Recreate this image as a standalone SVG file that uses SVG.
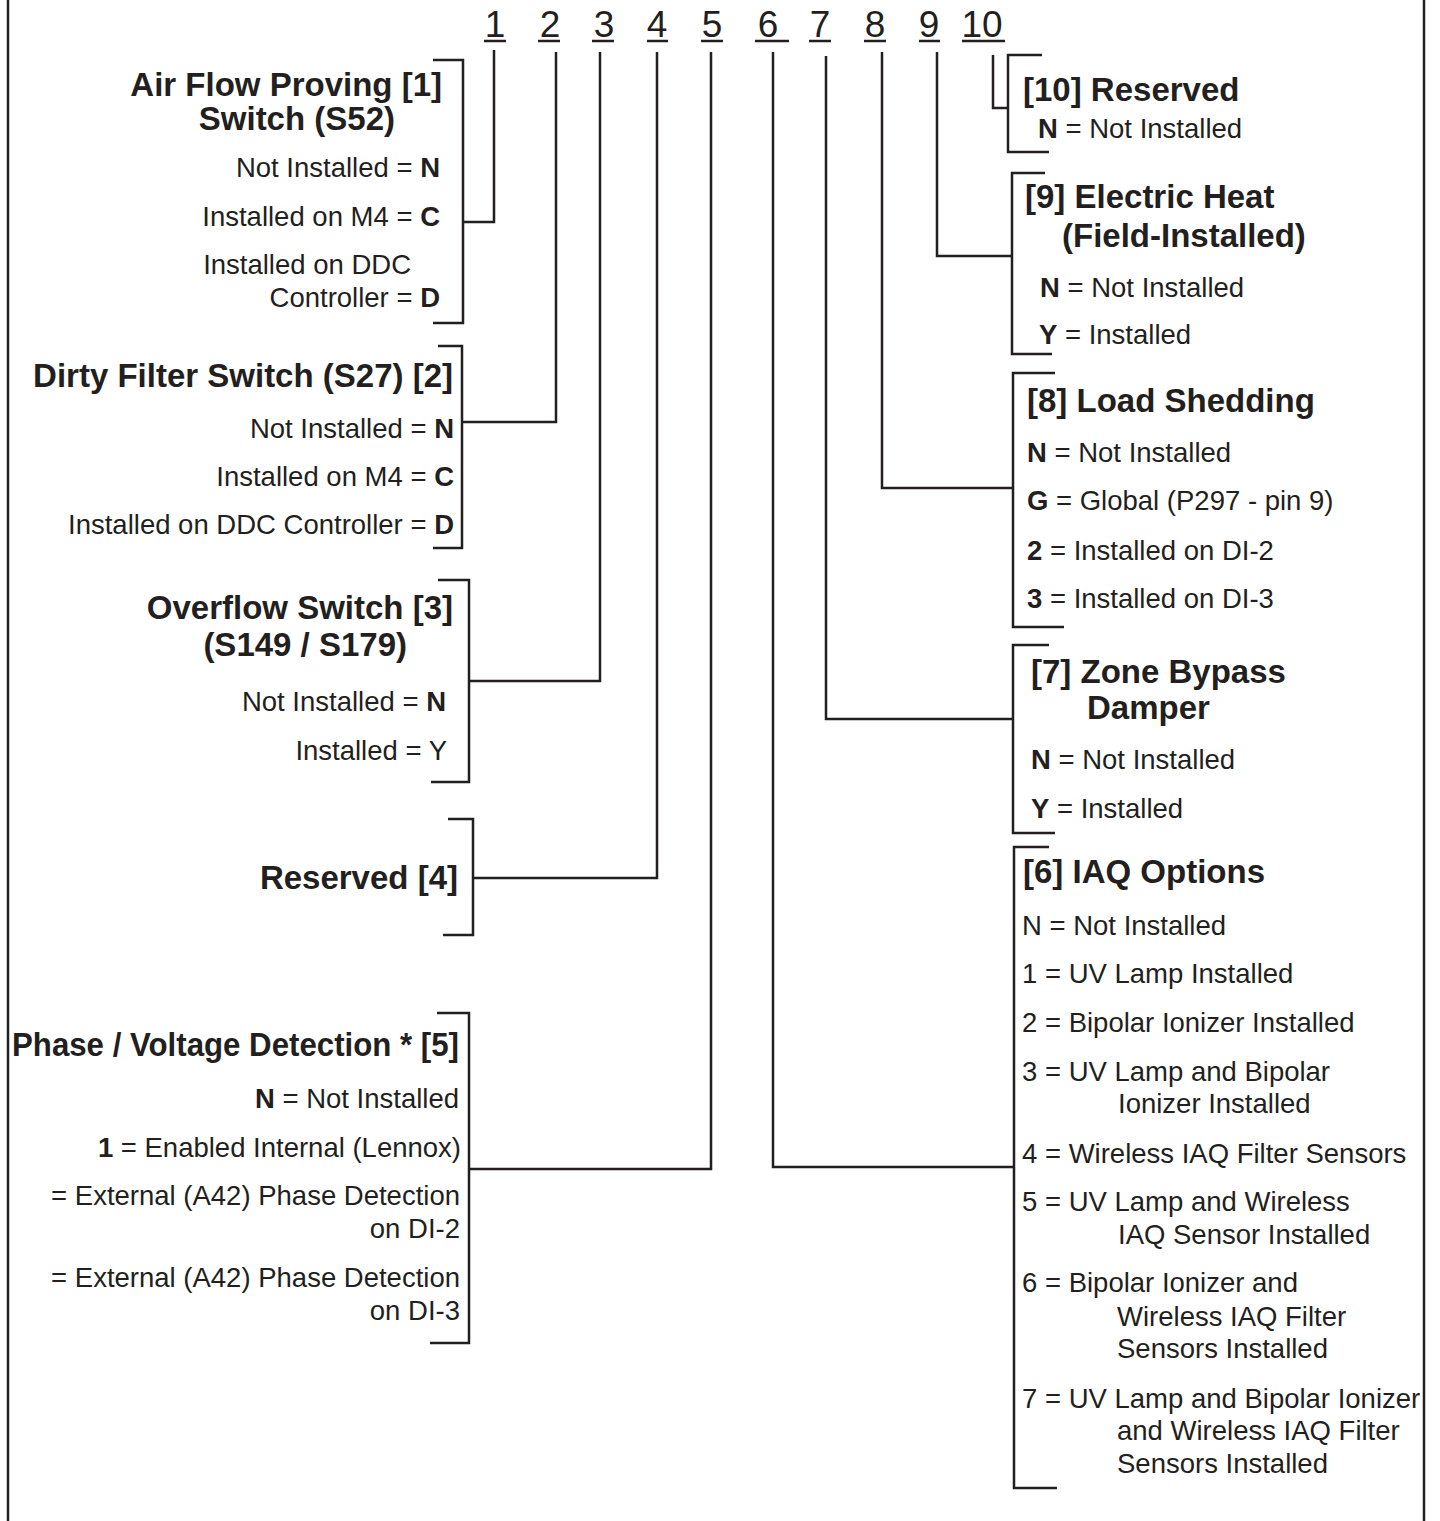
<svg xmlns="http://www.w3.org/2000/svg" width="1440" height="1521" viewBox="0 0 1440 1521">
<style>
text{font-family:"Liberation Sans",Arial,Helvetica,sans-serif;fill:#231f20}
.r{font-size:27.5px}
.b{font-size:33px;font-weight:bold}
.e{text-anchor:end}
.d{font-size:37px;text-anchor:middle}
.ln{fill:none;stroke:#231f20;stroke-width:2.5}
tspan.k{font-weight:bold}
</style>
<rect x="0" y="0" width="1440" height="1521" fill="#ffffff"/>
<g id="frame">
<line class="ln" x1="8" y1="0" x2="8" y2="1521"/>
<line class="ln" x1="1424" y1="0" x2="1424" y2="1521"/>
</g>
<g id="digits">
<text class="d" x="495" y="37">1</text>
<text class="d" x="550" y="37">2</text>
<text class="d" x="604" y="37">3</text>
<text class="d" x="657" y="37">4</text>
<text class="d" x="712" y="37">5</text>
<text class="d" x="768" y="37">6</text>
<text class="d" x="820" y="37">7</text>
<text class="d" x="875" y="37">8</text>
<text class="d" x="929" y="37">9</text>
<text class="d" x="982" y="37">10</text>
<line class="ln" x1="484" y1="41" x2="506" y2="41"/>
<line class="ln" x1="538" y1="41" x2="560" y2="41"/>
<line class="ln" x1="592" y1="41" x2="614" y2="41"/>
<line class="ln" x1="647" y1="41" x2="668" y2="41"/>
<line class="ln" x1="701" y1="41" x2="723" y2="41"/>
<line class="ln" x1="755" y1="41" x2="789" y2="41"/>
<line class="ln" x1="809" y1="41" x2="831" y2="41"/>
<line class="ln" x1="864" y1="41" x2="886" y2="41"/>
<line class="ln" x1="919" y1="41" x2="940" y2="41"/>
<line class="ln" x1="962" y1="41" x2="1005" y2="41"/>
</g>
<g id="connectors">
<polyline class="ln" points="494,50 494,222 463,222"/>
<polyline class="ln" points="556,52 556,422 462,422"/>
<polyline class="ln" points="600,52 600,681 469,681"/>
<polyline class="ln" points="657,52 657,878 473,878"/>
<polyline class="ln" points="711,52 711,1169 469,1169"/>
<polyline class="ln" points="773,52 773,1167 1014,1167"/>
<polyline class="ln" points="826,56 826,719 1013,719"/>
<polyline class="ln" points="882,52 882,488 1013,488"/>
<polyline class="ln" points="937,52 937,256 1012,256"/>
<polyline class="ln" points="993,55 993,108 1008,108"/>
</g>
<g id="node1">
<polyline class="ln" points="433,60 463,60 463,323 433,323"/>
<text class="b e" x="442" y="96">Air Flow Proving [1]</text>
<text class="b e" x="395" y="130">Switch (S52)</text>
<text class="r e" x="440" y="177">Not Installed = <tspan class="k">N</tspan></text>
<text class="r e" x="440" y="226">Installed on M4 = <tspan class="k">C</tspan></text>
<text class="r e" x="411" y="274">Installed on DDC</text>
<text class="r e" x="440" y="307">Controller = <tspan class="k">D</tspan></text>
</g>
<g id="node2">
<polyline class="ln" points="438,346 462,346 462,548 433,548"/>
<text class="b e" x="453" y="387">Dirty Filter Switch (S27) [2]</text>
<text class="r e" x="454" y="438">Not Installed = <tspan class="k">N</tspan></text>
<text class="r e" x="454" y="486">Installed on M4 = <tspan class="k">C</tspan></text>
<text class="r e" x="454" y="534">Installed on DDC Controller = <tspan class="k">D</tspan></text>
</g>
<g id="node3">
<polyline class="ln" points="438,580 469,580 469,782 431,782"/>
<text class="b e" x="453" y="619">Overflow Switch [3]</text>
<text class="b e" x="407" y="656">(S149 / S179)</text>
<text class="r e" x="446" y="711">Not Installed = <tspan class="k">N</tspan></text>
<text class="r e" x="447" y="760">Installed = Y</text>
</g>
<g id="node4">
<polyline class="ln" points="448,819 473,819 473,935 443,935"/>
<text class="b e" x="458" y="889">Reserved [4]</text>
</g>
<g id="node5">
<polyline class="ln" points="437,1013 469,1013 469,1343 430,1343"/>
<text class="b e" x="459" y="1056" textLength="447" lengthAdjust="spacingAndGlyphs">Phase / Voltage Detection * [5]</text>
<text class="r e" x="459" y="1108"><tspan class="k">N</tspan> = Not Installed</text>
<text class="r e" x="461" y="1157"><tspan class="k">1</tspan> = Enabled Internal (Lennox)</text>
<text class="r e" x="460" y="1205">= External (A42) Phase Detection</text>
<text class="r e" x="460" y="1238">on DI-2</text>
<text class="r e" x="460" y="1287">= External (A42) Phase Detection</text>
<text class="r e" x="460" y="1320">on DI-3</text>
</g>
<g id="node10">
<polyline class="ln" points="1042,55 1008,55 1008,152 1049,152"/>
<text class="b" x="1023" y="101">[10] Reserved</text>
<text class="r" x="1038" y="138"><tspan class="k">N</tspan> = Not Installed</text>
</g>
<g id="node9">
<polyline class="ln" points="1045,173 1012,173 1012,354 1052,354"/>
<text class="b" x="1025" y="208">[9] Electric Heat</text>
<text class="b" x="1062" y="247">(Field-Installed)</text>
<text class="r" x="1040" y="297"><tspan class="k">N</tspan> = Not Installed</text>
<text class="r" x="1039" y="344"><tspan class="k">Y</tspan> = Installed</text>
</g>
<g id="node8">
<polyline class="ln" points="1055,373 1013,373 1013,627 1064,627"/>
<text class="b" x="1027" y="412">[8] Load Shedding</text>
<text class="r" x="1027" y="462"><tspan class="k">N</tspan> = Not Installed</text>
<text class="r" x="1027" y="510"><tspan class="k">G</tspan> = Global (P297 - pin 9)</text>
<text class="r" x="1027" y="560"><tspan class="k">2</tspan> = Installed on DI-2</text>
<text class="r" x="1027" y="608"><tspan class="k">3</tspan> = Installed on DI-3</text>
</g>
<g id="node7">
<polyline class="ln" points="1049,645 1013,645 1013,833 1055,833"/>
<text class="b" x="1031" y="683">[7] Zone Bypass</text>
<text class="b" x="1087" y="719">Damper</text>
<text class="r" x="1031" y="769"><tspan class="k">N</tspan> = Not Installed</text>
<text class="r" x="1031" y="818"><tspan class="k">Y</tspan> = Installed</text>
</g>
<g id="node6">
<polyline class="ln" points="1049,847 1014,847 1014,1488 1057,1488"/>
<text class="b" x="1023" y="883">[6] IAQ Options</text>
<text class="r" x="1022" y="935">N = Not Installed</text>
<text class="r" x="1022" y="983">1 = UV Lamp Installed</text>
<text class="r" x="1022" y="1032">2 = Bipolar Ionizer Installed</text>
<text class="r" x="1022" y="1081">3 = UV Lamp and Bipolar</text>
<text class="r" x="1118" y="1113">Ionizer Installed</text>
<text class="r" x="1022" y="1163">4 = Wireless IAQ Filter Sensors</text>
<text class="r" x="1022" y="1211">5 = UV Lamp and Wireless</text>
<text class="r" x="1118" y="1244">IAQ Sensor Installed</text>
<text class="r" x="1022" y="1292">6 = Bipolar Ionizer and</text>
<text class="r" x="1117" y="1326">Wireless IAQ Filter</text>
<text class="r" x="1117" y="1358">Sensors Installed</text>
<text class="r" x="1022" y="1408">7 = UV Lamp and Bipolar Ionizer</text>
<text class="r" x="1117" y="1440">and Wireless IAQ Filter</text>
<text class="r" x="1117" y="1473">Sensors Installed</text>
</g>
</svg>
